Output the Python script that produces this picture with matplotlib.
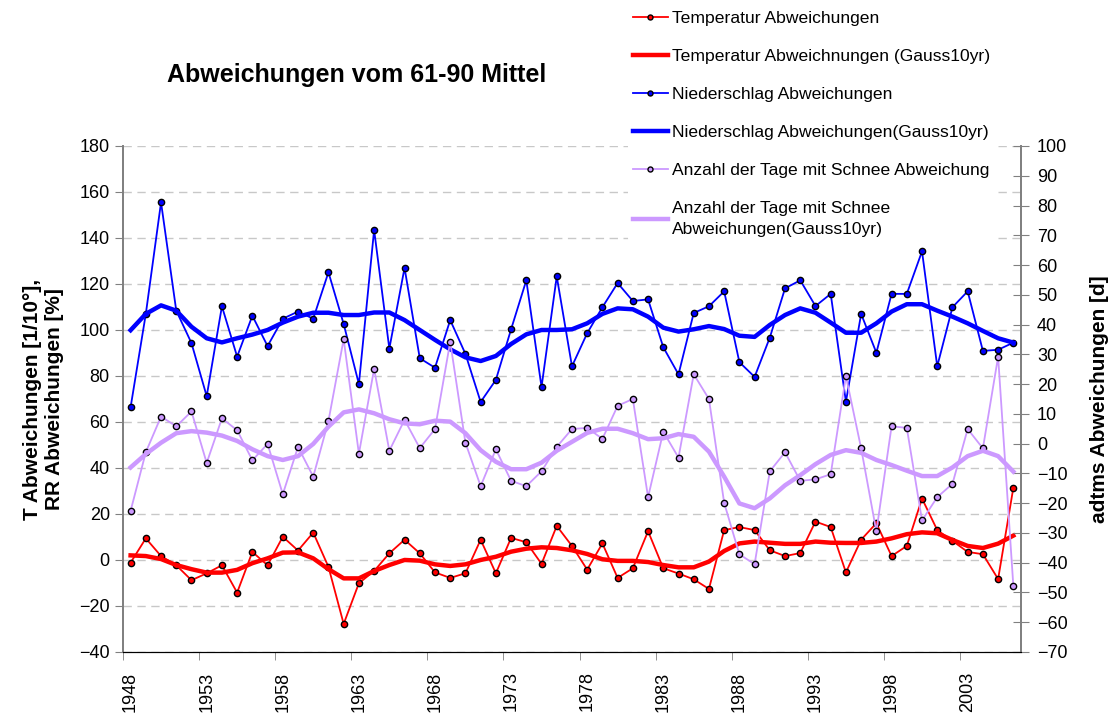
import matplotlib.pyplot as plt
import numpy as np

plt.rcParams['font.family'] = ['Liberation Sans', 'DejaVu Sans']

years = np.arange(1948, 2007)

temp = [-1.2, 9.4, 1.7, -2.3, -8.8, -5.8, -2.3, -14.2, 3.5, -2.3,
        10.1, 4.1, 11.9, -3.0, -27.8, -10.1, -4.8, 2.9, 8.8, 2.9,
        -5.4, -7.8, -5.8, 8.8, -5.8, 9.6, 7.7, -1.7, 14.8, 6.1,
        -4.2, 7.2, -7.8, -3.6, 12.5, -3.6, -5.9, -8.4, -12.6, 13.0,
        14.3, 13.0, 4.2, 1.7, 3.0, 16.7, 14.3, -5.4, 8.8, 16.0,
        1.7, 6.1, 26.7, 13.0, 8.3, 3.5, 2.5, -8.3, 31.4]
temp_gauss = [2.0, 1.7, 0.4, -2.2, -4.0, -5.5, -5.5, -4.3, -1.4, 0.7,
              3.2, 3.3, 0.7, -4.0, -8.0, -8.0, -4.8, -2.2, 0.0, -0.3,
              -1.9, -2.6, -1.9, 0.0, 1.4, 3.6, 4.9, 5.5, 5.2, 4.2,
              2.6, 0.3, -0.4, -0.4, -0.9, -2.2, -3.2, -3.2, -0.7, 3.9,
              7.2, 8.0, 7.5, 7.0, 7.0, 8.0, 7.5, 7.4, 7.4, 8.0,
              9.4, 11.2, 12.0, 11.6, 8.7, 6.1, 5.2, 7.1, 10.6]

rr = [66.4, 107.0, 155.5, 108.4, 94.3, 71.2, 110.3, 88.4, 106.2, 93.0,
      104.9, 108.0, 104.9, 125.1, 102.6, 76.5, 143.5, 91.9, 127.0, 87.7,
      83.6, 104.3, 89.6, 68.7, 78.3, 100.3, 121.6, 75.2, 123.3, 84.2,
      98.6, 109.9, 120.4, 112.6, 113.3, 92.5, 80.7, 107.4, 110.3, 116.8,
      86.0, 79.6, 96.7, 118.1, 121.6, 110.4, 115.7, 68.8, 107.0, 90.1,
      115.7, 115.7, 134.2, 84.2, 109.9, 116.8, 90.9, 91.4, 94.5]
rr_gauss = [99.9, 107.0, 110.7, 108.4, 101.4, 96.4, 94.6, 96.4, 98.0, 100.0,
            103.2, 105.8, 107.5, 107.5, 106.5, 106.5, 107.6, 107.6, 104.3, 100.0,
            95.7, 91.6, 88.1, 86.5, 88.7, 93.9, 98.1, 100.0, 100.0, 100.3,
            102.9, 107.0, 109.4, 109.0, 105.8, 101.0, 99.3, 100.3, 101.7, 100.4,
            97.5, 97.0, 102.2, 106.5, 109.4, 107.5, 103.2, 98.8, 98.8, 102.9,
            108.0, 111.2, 111.2, 108.4, 105.8, 102.9, 99.6, 96.4, 94.5]

snow = [-22.6, -2.9, 9.1, 5.8, 10.8, -6.5, 8.5, 4.5, -5.6, -0.1,
        -17.0, -1.1, -11.1, 7.6, 35.1, -3.4, 25.1, -2.4, 8.0, -1.5,
        4.9, 34.2, 0.3, -14.3, -1.9, -12.5, -14.3, -9.3, -1.1, 4.9,
        5.3, 1.6, 12.7, 15.0, -18.0, 4.0, -4.7, 23.3, 15.0, -19.9,
        -37.2, -40.5, -9.3, -2.9, -12.5, -12.0, -10.3, 22.7, -1.6, -29.5,
        5.8, 5.3, -25.8, -18.0, -13.5, 4.9, -1.6, 29.2, -47.8]
snow_gauss = [-8.0, -3.5, 0.3, 3.5, 4.2, 3.7, 2.7, 0.9, -1.9, -4.2,
              -5.5, -4.2, -0.1, 5.7, 10.5, 11.5, 10.2, 8.2, 6.8, 6.5,
              7.7, 7.4, 3.5, -2.2, -6.1, -8.6, -8.6, -6.4, -2.4, 0.6,
              3.6, 5.0, 5.0, 3.5, 1.5, 1.8, 3.2, 2.3, -2.7, -11.1,
              -20.1, -21.7, -18.4, -14.0, -10.6, -6.9, -3.8, -2.2, -3.1, -5.5,
              -7.2, -9.1, -10.9, -10.9, -8.0, -4.2, -2.4, -4.2, -9.4]

labels = ["Temperatur Abweichungen",
          "Temperatur Abweichnungen (Gauss10yr)",
          "Niederschlag Abweichungen",
          "Niederschlag Abweichungen(Gauss10yr)",
          "Anzahl der Tage mit Schnee Abweichung",
          "Anzahl der Tage mit Schnee\nAbweichungen(Gauss10yr)"]

red = "#FF0000"
blue = "#0000FF"
lilac = "#CC99FF"
axis_grey = "#808080"

fig = plt.figure(figsize=(11.09, 7.22), dpi=100)
ax = fig.add_axes([0.1109, 0.0970, 0.8097, 0.7008])
ax2 = ax.twinx()

mk = dict(marker="o", markersize=4.5, markeredgecolor="black", markeredgewidth=1.0)

h1, = ax.plot(years, temp, color=red, lw=1.3, markerfacecolor=red, label=labels[0], **mk)
h2, = ax.plot(years, temp_gauss, color=red, lw=3.2, label=labels[1])
h3, = ax.plot(years, rr, color=blue, lw=1.3, markerfacecolor=blue, label=labels[2], **mk)
h4, = ax.plot(years, rr_gauss, color=blue, lw=3.2, label=labels[3])
h5, = ax2.plot(years, snow, color=lilac, lw=1.3, markerfacecolor=lilac, label=labels[4], **mk)
h6, = ax2.plot(years, snow_gauss, color=lilac, lw=3.2, label=labels[5])

ax.set_xlim(1947.5, 2006.5)
ax.set_ylim(-40, 180)
ax2.set_ylim(-70, 100)
ax.set_yticks(np.arange(-40, 181, 20))
ax2.set_yticks(np.arange(-70, 101, 10))

ax.set_xticks(np.arange(1948, 2004, 5))
ax.set_xticklabels([str(y) for y in range(1948, 2004, 5)], rotation=90)
ax.set_xticks(np.arange(1947.5, 2006, 5), minor=True)
ax.tick_params(axis="x", which="major", length=0, labelsize=13, pad=14)
ax.tick_params(axis="x", which="minor", length=6, direction="out", color=axis_grey)
ax.tick_params(axis="y", labelsize=13, length=6, direction="out", color=axis_grey)
ax2.tick_params(axis="y", labelsize=13, length=12, direction="inout", color=axis_grey, pad=5.5)

ax.grid(axis="y", color="#c8c8c8", linestyle=(0, (6, 4)), lw=1.0)
ax.set_axisbelow(True)

for a in (ax, ax2):
    a.spines["top"].set_visible(False)
    a.spines["left"].set_color(axis_grey)
    a.spines["right"].set_color(axis_grey)
    a.spines["bottom"].set_color("black")
    a.spines["left"].set_linewidth(1.3)
    a.spines["right"].set_linewidth(1.3)

ax.set_ylabel("T Abweichungen [1/10°],\nRR Abweichungen [%]", fontsize=15, fontweight="bold",
              labelpad=11)
ax2.set_ylabel("adtms Abweichungen [d]", fontsize=15, fontweight="bold", labelpad=16)

fig.text(0.322, 0.896, "Abweichungen vom 61-90 Mittel", fontsize=18, fontweight="bold",
         ha="center", va="center")

leg = fig.legend(handles=[h1, h2, h3, h4, h5, h6], loc="upper left",
                 bbox_to_anchor=(0.558, 1.004), frameon=True, fontsize=12.6,
                 handlelength=2.0, handletextpad=0.25, labelspacing=1.3,
                 borderpad=0.3, markerscale=0.8)
for t in leg.get_texts():
    t.set_linespacing(1.45)
leg.get_frame().set_facecolor("white")
leg.get_frame().set_edgecolor("none")
leg.get_frame().set_alpha(1.0)

fig.savefig("out.png", dpi=100)
